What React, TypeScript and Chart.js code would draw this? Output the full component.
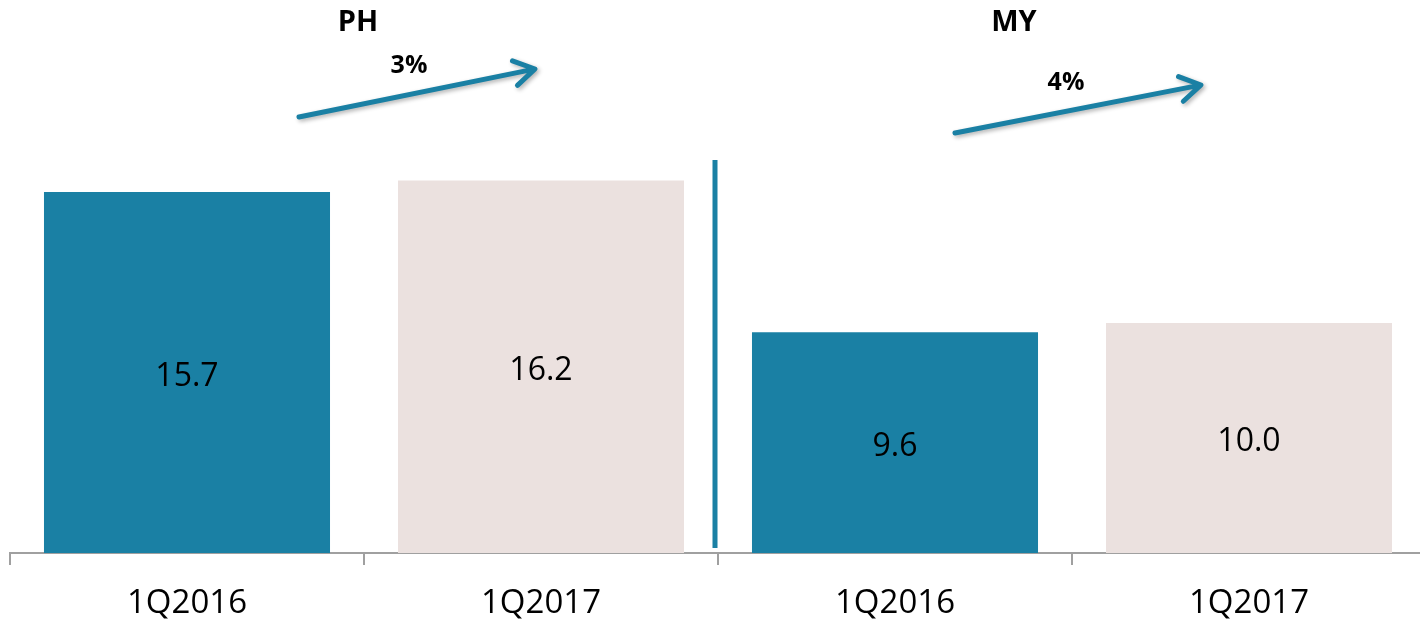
import React, { useEffect, useRef } from "react";
import { Chart, registerables } from "chart.js";

Chart.register(...registerables);

const categories = ["1Q2016", "1Q2017", "1Q2016", "1Q2017"];
const values = [15.7, 16.2, 9.6, 10.0];
const barColors = ["#1A80A4", "#EBE1DF", "#1A80A4", "#EBE1DF"];
const groupLabels = ["PH", "MY"];
const growthLabels = ["3%", "4%"];

const TEAL = "#1A80A4";
const FONT = "'Open Sans', 'Liberation Sans', sans-serif";

const annotationPlugin = {
  id: "annotations",
  afterDatasetsDraw(chart: any) {
    const ctx = chart.ctx;
    const meta = chart.getDatasetMeta(0);
    const ds = chart.data.datasets[0];
    ctx.save();
    // value labels
    ctx.fillStyle = "#000";
    ctx.font = `32px ${FONT}`;
    ctx.textAlign = "center";
    ctx.textBaseline = "middle";
    meta.data.forEach((bar: any, i: number) => {
      const v = ds.data[i] as number;
      ctx.fillText(v.toFixed(1), bar.x, (bar.y + bar.base) / 2 + 4);
    });

    const xs = chart.scales.x;
    const area = chart.chartArea;
    // separator line between groups
    const sepX = (xs.getPixelForValue(1) + xs.getPixelForValue(2)) / 2 - 3;
    ctx.strokeStyle = TEAL;
    ctx.lineWidth = 5;
    ctx.beginPath();
    ctx.moveTo(sepX, 160);
    ctx.lineTo(sepX, area.bottom - 5);
    ctx.stroke();

    // group titles and growth arrows
    const groups = [
      { title: groupLabels[0], tx: 358, ty: 23, g: growthLabels[0], gx: 409, gy: 66, x1: 299, y1: 117, x2: 535, y2: 69 },
      { title: groupLabels[1], tx: 1014, ty: 23, g: growthLabels[1], gx: 1066, gy: 83, x1: 955, y1: 133, x2: 1201, y2: 85 },
    ];
    groups.forEach((gr) => {
      ctx.fillStyle = "#000";
      ctx.font = `bold 29px ${FONT}`;
      ctx.fillText(gr.title, gr.tx, gr.ty);
      ctx.font = `bold 25px ${FONT}`;
      ctx.fillText(gr.g, gr.gx, gr.gy);

      ctx.save();
      ctx.shadowColor = "rgba(0,0,0,0.3)";
      ctx.shadowBlur = 4;
      ctx.shadowOffsetX = 2;
      ctx.shadowOffsetY = 2;
      ctx.strokeStyle = TEAL;
      ctx.lineWidth = 5;
      ctx.lineCap = "round";
      ctx.lineJoin = "round";
      const ang = Math.atan2(gr.y2 - gr.y1, gr.x2 - gr.x1);
      const hl = 24;
      const ha = 0.55;
      ctx.beginPath();
      ctx.moveTo(gr.x1, gr.y1);
      ctx.lineTo(gr.x2 - 2 * Math.cos(ang), gr.y2 - 2 * Math.sin(ang));
      ctx.moveTo(gr.x2 - hl * Math.cos(ang - ha), gr.y2 - hl * Math.sin(ang - ha));
      ctx.lineTo(gr.x2, gr.y2);
      ctx.lineTo(gr.x2 - hl * Math.cos(ang + ha), gr.y2 - hl * Math.sin(ang + ha));
      ctx.stroke();
      ctx.restore();
    });
    ctx.restore();
  },
};

export default function App() {
  const ref = useRef<HTMLCanvasElement>(null);
  useEffect(() => {
    if (!ref.current) return;
    const chart = new Chart(ref.current, {
      type: "bar",
      data: {
        labels: categories,
        datasets: [
          {
            data: values,
            backgroundColor: barColors,
            borderWidth: 0,
            barPercentage: 0.808,
            categoryPercentage: 1,
          },
        ],
      },
      options: {
        animation: false,
        responsive: false,
        maintainAspectRatio: false,
        layout: { padding: { left: 10, right: 10, top: 1, bottom: 0 } },
        plugins: { legend: { display: false }, tooltip: { enabled: false } },
        scales: {
          y: { display: false, min: 0, max: 24 },
          x: {
            afterFit: (scale: any) => {
              scale.height = 66;
            },
            grid: {
              drawOnChartArea: false,
              drawTicks: true,
              tickLength: 12,
              color: "#A0A0A0",
              lineWidth: 2,
              offset: true,
            },
            border: { color: "#A0A0A0", width: 2 },
            ticks: {
              color: "#000",
              padding: 19,
              font: { family: FONT, size: 33 },
              maxRotation: 0,
            },
          },
        },
      },
      plugins: [annotationPlugin],
    });
    return () => chart.destroy();
  }, []);
  return (
    <div style={{ position: "fixed", left: 0, top: 0, width: 1420, height: 619, overflow: "hidden", background: "#fff" }}>
      <canvas ref={ref} width={1436} height={619} style={{ display: "block" }} />
    </div>
  );
}
